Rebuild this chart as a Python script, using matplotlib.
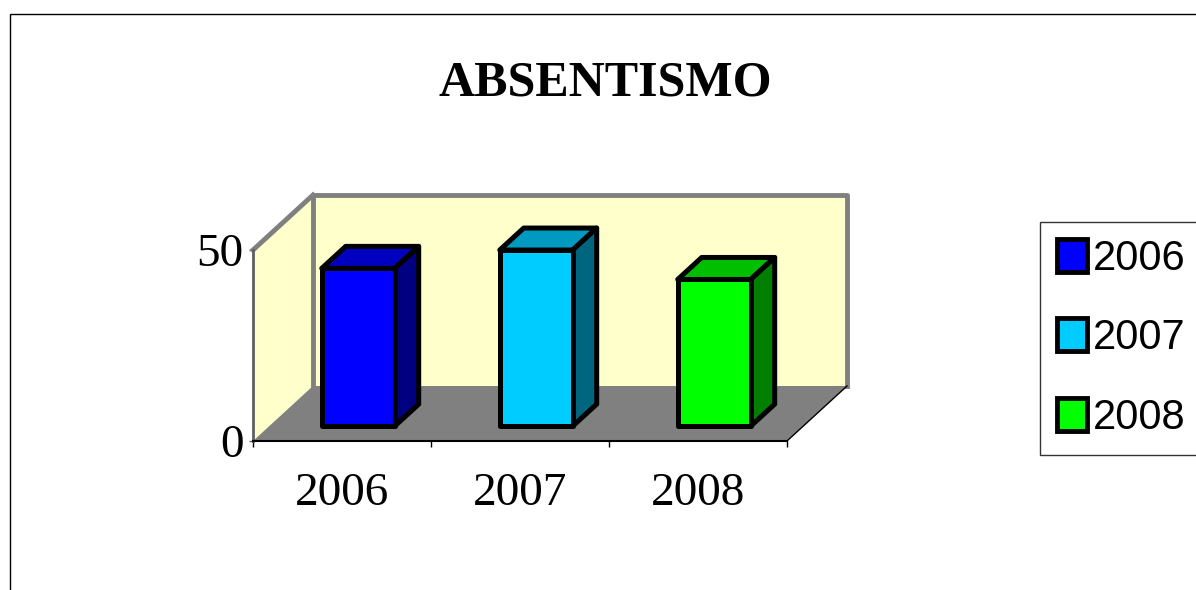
import matplotlib
matplotlib.use("Agg")
import matplotlib.pyplot as plt
from matplotlib.patches import Polygon, Patch, Rectangle

# Dados
anos = ["2006", "2007", "2008"]
valores = [41.3, 46.1, 38.4]
cor_frente = ["#0000FF", "#00CCFF", "#00FF00"]
cor_topo = ["#0000C0", "#0099C0", "#00BF00"]
cor_lado = ["#000080", "#006680", "#007F00"]
y_ticks = [0, 50]

W, H = 1196, 590
fig = plt.figure(figsize=(W / 100, H / 100), dpi=100)
ax = fig.add_axes([253 / W, 149 / H, 534 / W, 191 / H])
ax.set_xlim(0, 3)
ax.set_ylim(0, 50)
ax.patch.set_visible(False)

# profundidade (perspectiva obliqua) em unidades de dados
DX = 60 / 178
DY = 55 / 3.82
f1, f2 = 0.27, 0.67
larg = 0.41
n = len(anos)

# paredes e chao
parede = "#FFFFCC"
cinza = "#808080"
ax.add_patch(Polygon([(0, 0), (DX, DY), (DX, 50 + DY), (0, 50)], closed=True,
                     facecolor=parede, edgecolor="none", clip_on=False, zorder=1))
ax.add_patch(Polygon([(DX, DY), (n + DX, DY), (n + DX, 50 + DY), (DX, 50 + DY)], closed=True,
                     facecolor=parede, edgecolor="none", clip_on=False, zorder=1))
ax.plot([DX, DX, n + DX, n + DX], [DY, 50 + DY, 50 + DY, DY], color=cinza, lw=3.5,
        clip_on=False, zorder=2, solid_joinstyle="round")
ax.plot([0, DX], [50, 50 + DY], color=cinza, lw=3.5, clip_on=False, zorder=2)
ax.add_patch(Polygon([(0, 0), (n, 0), (n + DX, DY), (DX, DY)], closed=True,
                     facecolor=cinza, edgecolor="none", clip_on=False, zorder=3))
ax.plot([n, n + DX], [0, DY], color="black", lw=1, clip_on=False, zorder=3)

# barras
for i, v in enumerate(valores):
    x0 = i + 0.5 - larg / 2 + f1 * DX
    x1 = x0 + larg
    b0 = f1 * DY
    d = (f2 - f1)
    ax.bar(i + 0.5 + f1 * DX, v, bottom=b0, width=larg, color=cor_frente[i],
           edgecolor="black", linewidth=3.6, zorder=6, clip_on=False, joinstyle="round")
    ax.add_patch(Polygon([(x0, v + b0), (x1, v + b0), (x1 + d * DX, v + b0 + d * DY),
                          (x0 + d * DX, v + b0 + d * DY)], closed=True,
                         facecolor=cor_topo[i], edgecolor="black", lw=3.6,
                         joinstyle="round", clip_on=False, zorder=5))
    ax.add_patch(Polygon([(x1, b0), (x1 + d * DX, b0 + d * DY), (x1 + d * DX, v + b0 + d * DY),
                          (x1, v + b0)], closed=True,
                         facecolor=cor_lado[i], edgecolor="black", lw=3.6,
                         joinstyle="round", clip_on=False, zorder=5))

# eixos
for s in ["top", "right"]:
    ax.spines[s].set_visible(False)
ax.spines["bottom"].set_color("black")
ax.spines["bottom"].set_linewidth(1.5)
ax.spines["bottom"].set_zorder(4)
ax.spines["left"].set_color("#606060")
ax.spines["left"].set_linewidth(2)
ax.spines["left"].set_zorder(4)

ax.set_xticks(range(n + 1))
ax.set_xticklabels([])
ax.set_xticks([i + 0.5 for i in range(n)], minor=True)
ax.set_xticklabels(anos, minor=True, family="Liberation Serif", fontsize=34)
ax.tick_params(axis="x", which="major", length=4, width=1, direction="out")
ax.tick_params(axis="x", which="minor", length=0, pad=23)
ax.set_yticks(y_ticks)
ax.set_yticklabels([str(t) for t in y_ticks], family="Liberation Serif", fontsize=34)
ax.tick_params(axis="y", length=3, width=1, color="#606060", pad=4)

# titulo
fig.text(605 / W, 1 - 95 / H, "ABSENTISMO", ha="center", va="baseline",
         family="Liberation Serif", fontweight="bold", fontsize=36)

# legenda
handles = [Patch(facecolor=c, edgecolor="black", linewidth=3.5) for c in cor_frente]
leg = fig.legend(handles, anos, loc="upper left", bbox_to_anchor=(1040 / W, 1 - 222 / H),
                 prop={"family": "Liberation Sans", "size": 30}, frameon=True,
                 fancybox=False, edgecolor="black", borderaxespad=0,
                 handlelength=0.72, handleheight=0.84, handletextpad=0.15,
                 labelspacing=0.95, borderpad=0.4)
leg.get_frame().set_linewidth(1)

# borda da figura
fig.patches.append(Rectangle((10 / W, -0.1), 1.2, 1 - 14 / H + 0.1, transform=fig.transFigure,
                             fill=False, edgecolor="black", lw=1))

fig.savefig("out.png", dpi=100)
